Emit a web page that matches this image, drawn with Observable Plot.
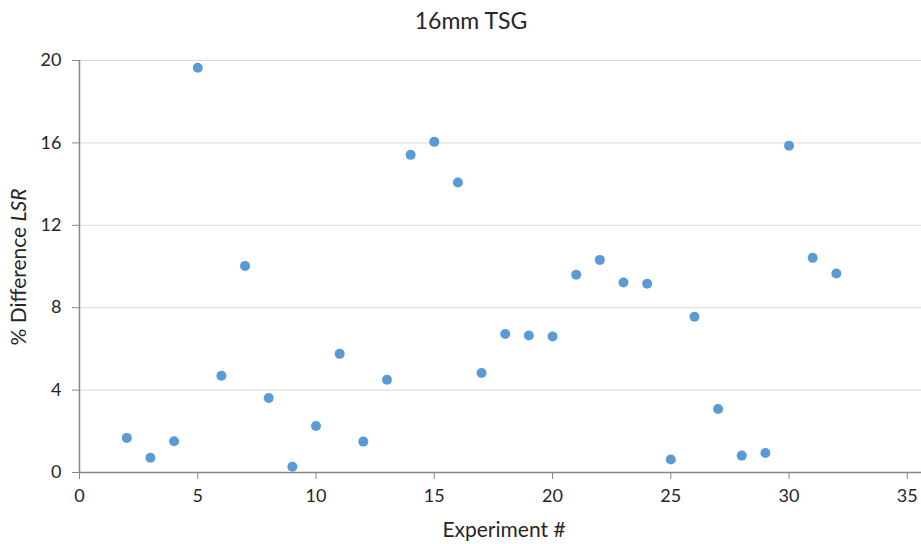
<!DOCTYPE html>
<html>
<head>
<meta charset="utf-8">
<script src="https://cdn.jsdelivr.net/npm/d3@7"></script>
<script src="https://cdn.jsdelivr.net/npm/@observablehq/plot@0.6"></script>
<style>
  html, body { margin: 0; padding: 0; background: #fff; }
  svg { display: block; }
</style>
</head>
<body>
<div id="chart"></div>
<script>
const experiments = [2,3,4,5,6,7,8,9,10,11,12,13,14,15,16,17,18,19,20,21,22,23,24,25,26,27,28,29,30,31,32];
const differences = [1.68,0.72,1.52,19.65,4.7,10.03,3.62,0.28,2.26,5.76,1.5,4.5,15.42,16.05,14.08,4.83,6.72,6.65,6.6,9.6,10.32,9.22,9.16,0.63,7.56,3.08,0.82,0.95,15.86,10.42,9.66];
const xTicks = [0,5,10,15,20,25,30,35];
const yTicks = [0,4,8,12,16,20];
const title = "16mm TSG";
const xLabel = "Experiment #";
const yLabelMain = "% Difference ";
const yLabelItalic = "LSR";

const data = experiments.map((e, i) => ({experiment: e, diff: differences[i]}));
const font = "Lato, 'Open Sans', sans-serif";
const textColor = "#262626";

const chart = Plot.plot({
  width: 921,
  height: 544,
  marginTop: 60,
  marginBottom: 72,
  marginLeft: 79,
  marginRight: 0,
  style: {fontFamily: font, fontSize: "18px", color: textColor, background: "#fff"},
  x: {domain: [0, 35.6]},
  y: {domain: [0, 20]},
  marks: [
    Plot.gridY(yTicks.filter(d => d > 0), {stroke: "#d9d9d9", strokeOpacity: 1}),
    Plot.axisX(xTicks, {tickSize: 7, tickPadding: 10, label: null, stroke: "#868686", fill: textColor, fontSize: 18}),
    Plot.axisY(yTicks, {tickSize: 7, tickPadding: 11, label: null, stroke: "#868686", fill: textColor, fontSize: 18}),
    Plot.ruleY([0], {stroke: "#868686", strokeWidth: 1.5}),
    Plot.ruleX([0], {stroke: "#868686", strokeWidth: 1.5}),
    Plot.dot(data, {x: "experiment", y: "diff", r: 5, fill: "#5b9bd5", stroke: "none"})
  ]
});

const svg = d3.select(chart);
svg.append("text")
  .attr("x", 471).attr("y", 29)
  .attr("text-anchor", "middle")
  .attr("font-family", font)
  .attr("font-size", 23)
  .attr("fill", textColor)
  .text(title);
svg.append("text")
  .attr("x", 504).attr("y", 537)
  .attr("text-anchor", "middle")
  .attr("font-family", font)
  .attr("font-size", 21)
  .attr("fill", textColor)
  .text(xLabel);
const yl = svg.append("text")
  .attr("transform", "translate(26,267) rotate(-90)")
  .attr("text-anchor", "middle")
  .attr("font-family", font)
  .attr("font-size", 21)
  .attr("fill", textColor);
yl.append("tspan").text(yLabelMain);
yl.append("tspan").attr("font-style", "italic").text(yLabelItalic);

document.getElementById("chart").appendChild(chart);
</script>
</body>
</html>
